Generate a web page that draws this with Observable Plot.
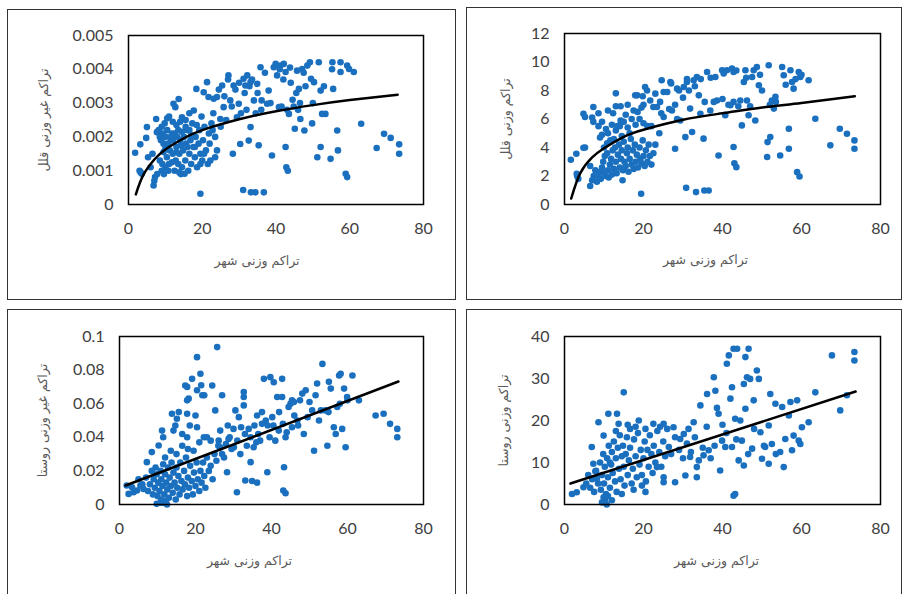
<!DOCTYPE html>
<html>
<head>
<meta charset="utf-8">
<script src="https://cdn.jsdelivr.net/npm/d3@7"></script>
<script src="https://cdn.jsdelivr.net/npm/@observablehq/plot@0.6"></script>
<style>
  html, body { margin: 0; padding: 0; background: #fff; }
  body { width: 903px; height: 594px; overflow: hidden; position: relative; }
  .box { position: absolute; box-sizing: border-box; border: 1.5px solid #333; background: #fff; }
  .plot { position: absolute; }
  .plot svg { overflow: visible; }
</style>
</head>
<body>
<div class="box" style="left:7px;top:9px;width:449px;height:291px"></div>
<div class="box" style="left:466px;top:7px;width:436px;height:293px"></div>
<div class="box" style="left:7px;top:309px;width:449px;height:300px"></div>
<div class="box" style="left:466px;top:309px;width:436px;height:300px"></div>
<div class="plot" id="tl" style="left:8px;top:10px"></div>
<div class="plot" id="tr" style="left:467px;top:8px"></div>
<div class="plot" id="bl" style="left:8px;top:310px"></div>
<div class="plot" id="br" style="left:467px;top:310px"></div>
<script>
// ---------- shared labels / ticks ----------
const xTitle = "تراکم وزنی شهر";
const tlTitle = "تراکم غیر وزنی قلل";
const trTitle = "تراکم وزنی قلل";
const blTitle = "تراکم غیر وزنی روستا";
const brTitle = "تراکم وزنی روستا";
const xTicks = [0, 20, 40, 60, 80];
const tlTicks = [0, 0.001, 0.002, 0.003, 0.004, 0.005];
const trTicks = [0, 2, 4, 6, 8, 10, 12];
const blTicks = [0, 0.02, 0.04, 0.06, 0.08, 0.1];
const brTicks = [0, 10, 20, 30, 40];

// ---------- top-left: unweighted peaks density ----------
const tlX = [1.8,3.2,3.0,3.6,3.3,5.0,4.8,5.3,6.8,7.2,7.0,7.5,7.7,6.5,6.0,7.8,
  8.2,8.5,8.8,9.0,9.3,9.5,9.8,10.0,10.2,10.5,8.5,9.0,9.2,9.6,10.0,10.4,10.8,11.0,11.2,11.5,
  11.8,12.0,12.2,12.7,13.6,12.5,12.8,13.0,13.2,13.5,13.8,14.0,14.2,14.5,14.5,14.8,15.0,15.2,15.4,15.6,
  16.0,16.2,16.5,16.8,17.0,17.3,17.7,17.6,18.0,18.2,18.4,18.6,19.0,19.2,19.5,19.5,19.8,20.0,20.2,20.4,
  20.6,21.0,21.3,21.5,21.7,21.8,22.0,11.0,12.0,10.5,13.0,15.5,16.5,14.0,10.8,11.5,12.5,13.5,14.5,15.5,
  16.5,12.0,13.0,14.2,16.0,17.0,18.5,19.5,20.5,18.0,11.8,13.8,9.5,10.0,
  23.1,24.0,25.4,24.9,25.8,27.1,27.6,28.5,28.3,29.4,29.9,30.3,31.1,31.2,31.7,32.2,32.6,33.1,33.1,33.2,
  34.0,34.4,34.9,35.3,35.8,36.1,36.7,37.6,38.0,38.9,39.4,39.9,22.5,23.0,23.5,24.0,25.0,26.0,26.5,27.0,
  28.0,29.0,30.0,30.5,31.5,32.0,33.5,34.5,35.0,36.0,37.0,38.5,22.8,23.5,22.2,24.5,32.8,
  40.3,40.8,41.2,42.1,42.6,42.6,42.8,43.2,43.5,44.8,45.1,45.7,46.2,46.6,47.1,47.5,47.7,48.5,49.2,49.5,
  50.3,51.2,51.6,52.1,52.5,52.1,53.4,54.8,55.3,55.5,55.2,56.6,56.8,57.5,57.5,58.9,59.3,59.3,59.8,61.1,
  63.1,67.3,69.3,71.1,73.4,73.4,41.5,42.0,43.0,44.0,44.5,45.5,46.0,48.0,50.0,53.0,41.0,43.8,46.5,49.8];
const tlY = [.00153,.00178,.00100,.00091,.00095,.00229,.00197,.00140,.00056,.00081,.00070,.00253,.00214,.00150,.00110,.00090,
  .0022,.0020,.0019,.0023,.0021,.0018,.0024,.0020,.0017,.0022,.0013,.0010,.0012,.0009,.0011,.0014,.0010,.0012,.0016,.0019,
  .0021,.0015,.00298,.00288,.00312,.0010,.0013,.0017,.0020,.0012,.0015,.0019,.0009,.00258,.0011,.0016,.0020,.00091,.0013,.0018,
  .0022,.0010,.0015,.0019,.0012,.0024,.00278,.0017,.0014,.0020,.00342,.0011,.0018,.0022,.00032,.0015,.0026,.0013,.0019,.00332,
  .0023,.0016,.00362,.0012,.00318,.0021,.0018,.0026,.00245,.00255,.00235,.0025,.0027,.00245,.0018,.0020,.0021,.0022,.00215,.0023,
  .0022,.0019,.00155,.00175,.0017,.00205,.00235,.0012,.0015,.0017,.00125,.00095,.00155,.00165,
  .00313,.00318,.00352,.00253,.00288,.00382,.00308,.00352,.0015,.00258,.00298,.00179,.00043,.00372,.00352,.00382,.00189,.00362,.00229,.00036,
  .00308,.00036,.00357,.00175,.00406,.00308,.00036,.00298,.00337,.00145,.00406,.00416,.0024,.0027,.002,.0016,.0023,.0032,.0025,.0037,
  .0029,.0034,.0036,.0027,.0033,.0028,.0037,.0027,.0033,.0028,.0039,.003,.0022,.0014,.0013,.0034,.0035,
  .00382,.00288,.00411,.00416,.00392,.0017,.0011,.001,.00268,.0029,.00224,.00396,.00342,.00253,.00401,.0039,.00219,.00411,.00421,.00372,
  .00362,.0014,.00421,.00337,.00268,.0017,.00268,.00135,.00421,.00342,.004,.00219,.0016,.00421,.00392,.00091,.00081,.00411,.00401,.00392,
  .00239,.00167,.00209,.00197,.00178,.0015,.0029,.0037,.0028,.0036,.0031,.0033,.0028,.0035,.003,.0035,.004,.00405,.003,.0024];
const tlTrendX = [2, 4, 7, 10, 15, 20, 30, 40, 50, 60, 73];
const tlTrendY = [0.0003, 0.00087, 0.00133, 0.00163, 0.00196, 0.0022, 0.00252, 0.00276, 0.00294, 0.00309, 0.00325];

// ---------- top-right: weighted peaks density ----------
const trX = [1.6,3.0,3.1,3.5,3.2,4.8,5.2,4.8,5.2,6.5,7.0,7.4,7.8,7.3,7.0,7.3,6.5,8.6,8.6,9.0,9.5,10.0,10.8,11.6,11.0,12.3,13.0,13.0,13.4,14.2,14.2,14.7,
  8.2,8.5,9.0,9.2,9.5,9.8,10.0,10.2,10.5,10.8,11.0,11.2,11.5,11.8,12.0,12.2,12.5,12.8,13.0,13.2,
  13.5,13.8,14.0,14.3,14.5,14.8,15.0,15.2,15.5,15.8,16.0,16.2,16.5,16.8,17.0,17.3,17.5,17.8,18.0,18.3,
  18.6,19.0,19.2,19.5,19.8,20.0,20.3,20.6,21.0,21.3,21.6,22.0,
  11.0,12.0,13.0,14.0,15.0,16.0,17.0,18.0,19.0,20.0,21.0,15.5,16.5,17.5,18.5,19.5,14.5,12.5,10.5,9.5,16.0,17.9,18.4,20.4,20.9,19.8,20.0,
  19.4,21.7,22.5,23.0,23.4,24.2,24.6,25.1,25.1,26.8,27.2,28.0,28.5,29.3,30.2,30.6,30.8,31.0,31.8,32.3,
  32.7,33.3,33.5,34.0,34.4,35.2,35.4,36.1,36.5,36.9,37.8,38.2,38.6,39.0,39.9,40.3,40.7,41.1,42.0,42.4,
  42.8,42.8,42.8,43.0,43.5,44.5,44.9,45.4,45.8,46.2,46.6,47.5,47.9,48.3,48.7,49.2,50.0,51.3,51.4,51.7,
  52.1,52.5,53.0,53.4,54.6,55.1,55.5,56.8,56.8,57.2,57.6,58.0,58.9,59.5,59.3,59.7,61.8,63.5,67.3,69.7,71.5,73.4,73.4,
  22.0,23.0,24.0,22.5,26.0,27.0,28.0,29.0,30.0,31.5,33.0,34.5,35.5,37.0,40.0,41.5,43.5,44.0,46.0,47.0,
  49.5,52.0,53.5,56.0,58.5,60.0,31.0,24.5,26.5,28.5];
const trY = [3.14,3.56,2.16,1.8,2.0,6.37,6.14,3.98,4.0,1.3,1.7,2.0,2.4,6.84,6.1,5.8,2.7,6.4,5.5,4.7,4.9,4.0,4.3,4.5,6.6,6.4,7.8,6.9,5.5,6.9,5.9,1.7,
  1.6,2.0,2.3,1.8,2.6,3.0,2.2,3.4,2.0,3.6,2.4,1.9,2.8,3.2,2.1,3.8,2.5,4.0,3.0,2.2,
  3.5,4.2,2.6,3.2,3.8,2.4,4.4,3.0,2.7,3.6,4.0,2.3,3.2,4.6,2.8,3.8,2.5,4.2,3.0,3.5,
  2.6,4.0,3.2,2.9,4.5,3.4,2.7,3.8,3.0,4.2,3.4,2.8,
  5.0,5.6,5.2,5.5,5.8,5.4,6.0,5.6,6.0,5.7,5.5,6.3,5.0,6.6,6.5,6.8,4.8,4.6,5.3,5.8,7.0,7.66,7.66,8.25,8.0,7.6,7.0,
  0.75,7.3,6.84,7.78,6.84,7.2,8.72,7.9,6.14,8.6,6.6,3.91,8.13,5.9,8.25,4.73,1.17,8.6,6.73,5.09,
  8.72,0.87,8.95,7.66,6.37,4.62,0.98,9.3,0.98,6.6,7.2,8.95,7.3,3.44,9.42,9.19,6.26,9.42,6.96,9.54,
  9.3,7.2,4.03,2.9,2.62,7.3,5.55,8.6,9.42,7.3,6.26,8.95,9.42,5.9,9.65,8.37,8.0,3.33,4.38,9.77,
  4.73,7.3,6.73,7.55,3.44,9.65,9.07,5.32,3.91,9.42,8.6,8.13,2.27,1.97,9.3,8.95,8.72,6.02,4.15,5.32,4.97,4.5,3.91,
  5.5,4.2,5.0,3.6,7.9,8.5,7.0,8.0,7.5,8.0,8.3,8.8,7.2,8.9,7.4,7.0,9.4,6.9,8.9,6.9,
  9.1,7.0,7.2,8.4,8.8,9.1,8.8,6.4,6.7,6.0];
const trTrendX = [1.7, 4, 7, 10, 15, 20, 30, 40, 50, 60, 73.5];
const trTrendY = [0.42, 2.2, 3.3, 3.95, 4.75, 5.25, 5.95, 6.4, 6.8, 7.12, 7.6];

// ---------- bottom-left: unweighted village density ----------
const blX = [1.9,2.4,3.3,3.7,4.6,5.5,6.3,7.2,8.5,9.8,10.3,11.2,11.5,13.8,14.2,14.7,15.1,15.6,17.3,17.8,
  17.8,18.2,17.8,17.8,19.1,20.4,20.4,21.3,21.5,21.8,22.3,20.4,22.2,23.0,24.4,25.2,25.7,26.1,27.0,28.3,
  28.7,30.1,30.5,30.9,31.4,31.8,32.7,32.7,32.7,33.1,34.0,34.5,34.9,36.2,35.3,36.2,37.5,38.0,38.9,39.7,
  40.2,40.6,41.0,41.5,41.9,42.8,42.8,43.3,43.1,43.7,43.7,45.0,45.4,45.9,45.4,46.8,48.1,48.5,49.0,50.7,
  51.2,51.6,52.0,52.5,53.4,54.2,54.7,55.1,55.6,56.4,56.9,57.3,57.8,58.2,59.1,58.6,59.5,59.9,61.3,63.0,
  67.4,69.5,71.2,73.1,73.1,
  5.0,6.0,7.0,7.5,8.0,8.5,8.8,9.0,9.3,9.5,9.8,10.0,10.2,10.5,10.8,11.0,11.0,11.3,11.5,11.8,
  12.0,12.2,12.3,12.6,12.8,13.0,13.2,13.5,13.7,14.0,14.2,14.5,14.8,15.0,15.2,15.5,15.8,16.0,16.3,16.6,
  17.0,17.2,17.5,17.8,18.0,18.3,18.6,19.0,19.3,19.6,20.0,20.3,20.6,21.0,21.3,21.6,22.0,22.3,22.6,23.0,
  23.5,24.0,24.5,25.0,25.5,26.0,26.5,27.0,27.5,28.0,29.0,29.5,12.0,13.5,15.0,16.5,18.0,19.5,21.0,12.5,
  11.5,10.8,
  30.0,31.0,32.0,33.5,34.5,35.5,36.5,37.0,38.5,39.5,40.5,42.0,43.0,44.0,44.5,46.0,47.0,47.5,49.5,50.0,
  53.0,55.0,58.0,60.0,37.5,39.0,36.0,33.0,24.0,26.5,28.5,20.0,18.5,16.5];
const blY = [.0113,.0063,.0103,.0073,.0083,.0113,.0093,.0252,.0312,.0004,.0351,.044,.04,.054,.044,.047,.051,.055,.0708,.07,
  .062,.063,.054,.04,.0748,.0877,.046,.0778,.071,.065,.065,.068,.04,.04,.0708,.056,.0937,.038,.065,.0192,
  .039,.0341,.056,.0073,.052,.03,.067,.064,.059,.0143,.045,.0252,.014,.013,.0341,.053,.048,.0748,.0192,.0758,
  .052,.0728,.038,.064,.044,.0748,.064,.0222,.0083,.0067,.04,.06,.062,.061,.046,.05,.066,.042,.068,.056,
  .032,.065,.072,.05,.0837,.056,.035,.073,.069,.046,.042,.058,.0768,.0778,.069,.045,.0341,.064,.0768,.062,
  .053,.054,.048,.045,.04,
  .015,.012,.016,.008,.012,.02,.006,.015,.01,.022,.018,.005,.013,.008,.02,.003,.015,.011,.024,.006,
  .018,.002,.013,.009,.022,.004,.016,.011,.025,.007,.019,.013,.003,.022,.01,.017,.006,.025,.014,.009,
  .02,.012,.028,.005,.016,.01,.023,.014,.006,.019,.011,.025,.015,.008,.02,.013,.025,.017,.01,.028,
  .02,.023,.015,.03,.026,.035,.034,.03,.028,.036,.04,.033,.028,.032,.03,.035,.033,.032,.037,0,
  .001,.001,
  .045,.038,.046,.035,.04,.047,.042,.038,.05,.04,.047,.055,.048,.043,.058,.053,.047,.062,.052,.061,
  .056,.055,.06,.062,.055,.047,.037,.042,.038,.044,.047,.053,.047,.042];
const blTrendX = [1.6, 73.4];
const blTrendY = [0.0113, 0.0732];

// ---------- bottom-right: weighted village density ----------
const brX = [1.9,3.1,4.8,6.9,7.3,7.8,8.2,8.6,9.9,9.9,10.3,10.7,11.1,13.3,13.7,15.0,16.6,18.8,19.6,22.5,
  23.4,24.2,25.1,25.1,25.1,26.4,27.6,28.0,29.3,30.2,30.6,31.4,31.8,32.7,33.5,33.5,34.4,35.2,36.1,36.5,
  37.8,38.2,38.6,39.0,39.4,39.9,40.7,41.1,41.6,42.0,42.4,42.4,42.8,43.2,42.8,43.2,43.7,44.1,44.9,45.4,
  45.4,45.8,45.8,46.2,46.6,47.0,47.5,47.9,48.7,49.2,49.6,50.0,50.8,51.7,51.7,52.1,52.5,53.4,54.6,55.1,
  55.5,55.9,56.8,57.2,57.6,58.0,58.9,59.3,59.7,60.1,61.8,63.5,67.7,69.8,71.5,73.4,73.4,
  5.5,6.0,6.5,7.0,7.5,8.0,8.5,9.0,9.2,9.5,9.8,10.0,10.2,10.5,10.8,11.0,11.2,11.5,11.8,12.0,
  12.2,12.5,12.8,13.0,13.2,13.5,13.8,14.0,14.2,14.5,14.8,15.0,15.2,15.5,15.8,16.0,16.3,16.6,17.0,17.3,
  17.6,18.0,18.3,18.6,19.0,19.3,19.6,20.0,20.3,20.6,21.0,21.3,21.6,22.0,22.3,22.6,23.0,23.5,24.0,24.5,
  25.0,25.5,26.0,27.0,28.0,29.0,30.0,31.0,32.0,33.0,34.0,35.0,36.0,37.0,38.0,40.0,41.0,43.5,44.5,46.5,
  48.0,50.5,53.5,13.0,16.0,18.0,20.5,11.5,14.5,17.5,20.5,12.0,11.0,9.5];
const brY = [2.5,2.9,4.1,13.7,9.7,7.9,6.1,19.6,16.4,1.7,0.8,0,21.6,21.6,19.2,26.7,18.0,20.0,4.5,19.2,
  8.9,18.5,19.2,5.3,6.5,13.7,18.4,5.3,15.6,16.8,6.9,18.0,11.3,19.6,8.9,6.5,23.6,11.7,26.3,12.9,
  30.3,27.1,23.0,21.6,8.1,15.2,13.7,33.5,35.5,25.2,27.9,13.7,2.1,2.5,37.1,20.4,37.1,10.5,15.2,28.7,
  9.3,35.1,22.8,30.3,37.1,29.9,13.3,24.8,31.9,29.9,17.2,10.9,13.7,18.8,9.7,26.3,14.4,24.0,12.5,23.2,
  8.9,15.6,21.2,24.4,12.9,16.4,24.8,15.2,14.4,18.4,19.6,26.7,35.5,22.4,26.0,36.3,34.3,
  5.0,7.0,4.0,6.0,3.0,8.0,5.0,10.0,3.5,7.0,12.0,5.0,9.0,2.5,11.0,6.5,14.0,4.0,9.5,12.5,
  7.5,15.0,5.5,11.0,3.0,13.5,8.5,16.5,6.0,11.5,14.0,9.0,4.5,12.0,16.0,7.0,10.5,13.5,5.0,8.5,
  15.5,11.5,6.5,17.0,9.5,13.0,7.0,11.0,15.0,5.5,13.0,9.0,16.5,12.0,7.5,14.0,10.0,17.5,12.5,9.0,
  15.0,11.5,18.0,12.0,16.0,13.0,11.0,14.5,12.5,16.0,10.5,13.5,18.5,11.0,14.0,19.0,17.0,15.5,20.0,12.0,
  18.0,14.0,12.0,17.5,19.0,18.5,18.0,10.0,2.5,3.5,3.0,1.0,2.0,0.5];
const brTrendX = [1.5, 73.7];
const brTrendY = [5.0, 26.9];

// ---------- drawing ----------
const DOT = "#1a70be";
function zip(xs, ys) {
  const n = Math.min(xs.length, ys.length);
  return d3.range(n).map(i => ({x: xs[i], y: ys[i]}));
}
function panel(o) {
  return Plot.plot({
    width: o.width, height: o.height,
    marginLeft: o.mL, marginRight: o.mR, marginTop: o.mT, marginBottom: o.mB,
    style: {fontFamily: "Lato, 'Open Sans', sans-serif", fontSize: "16px", color: "#404040", background: "transparent", overflow: "visible"},
    x: {domain: [0, 80], ticks: xTicks, tickSize: 0, tickPadding: 18, label: null, tickFormat: d => String(d)},
    y: {domain: o.yDomain, ticks: o.yTicks, tickSize: 0, tickPadding: 15, label: null, tickFormat: d => String(d)},
    marks: [
      Plot.dot(zip(o.xs, o.ys), {x: "x", y: "y", r: 3.3, fill: DOT, stroke: "none"}),
      Plot.line(zip(o.tx, o.ty), {x: "x", y: "y", stroke: "#000", strokeWidth: 2.5, curve: "natural"}),
      Plot.frame({stroke: "#000", strokeWidth: 1.5}),
      Plot.text([xTitle], {text: d => d, frameAnchor: "bottom", dy: o.xdy, dx: o.xdx,
        textAnchor: "middle", lineAnchor: "middle",
        fontFamily: "'DejaVu Sans', sans-serif", fontSize: 12.5, fill: "#595959"}),
      Plot.text([o.yTitle], {text: d => d, frameAnchor: "left", rotate: -90, dx: o.ydx,
        textAnchor: "middle", lineAnchor: "middle",
        fontFamily: "'DejaVu Sans', sans-serif", fontSize: 12.5, fill: "#595959"})
    ]
  });
}

document.getElementById("tl").append(panel({
  xs: tlX, ys: tlY, tx: tlTrendX, ty: tlTrendY, yDomain: [0, 0.005], yTicks: tlTicks, yTitle: tlTitle,
  width: 447, height: 289, mL: 120, mR: 32, mT: 25, mB: 95, xdy: 56, xdx: -19, ydx: -85
}));
document.getElementById("tr").append(panel({
  xs: trX, ys: trY, tx: trTrendX, ty: trTrendY, yDomain: [0, 12], yTicks: trTicks, yTitle: trTitle,
  width: 433, height: 291, mL: 97, mR: 20, mT: 25, mB: 95, xdy: 55, xdx: -17, ydx: -59
}));
document.getElementById("bl").append(panel({
  xs: blX, ys: blY, tx: blTrendX, ty: blTrendY, yDomain: [0, 0.1], yTicks: blTicks, yTitle: blTitle,
  width: 447, height: 284, mL: 111, mR: 32, mT: 26, mB: 90, xdy: 56, xdx: -22, ydx: -77
}));
document.getElementById("br").append(panel({
  xs: brX, ys: brY, tx: brTrendX, ty: brTrendY, yDomain: [0, 40], yTicks: brTicks, yTitle: brTitle,
  width: 433, height: 284, mL: 97, mR: 20, mT: 26, mB: 90, xdy: 56, xdx: -6, ydx: -61
}));
</script>
</body>
</html>
